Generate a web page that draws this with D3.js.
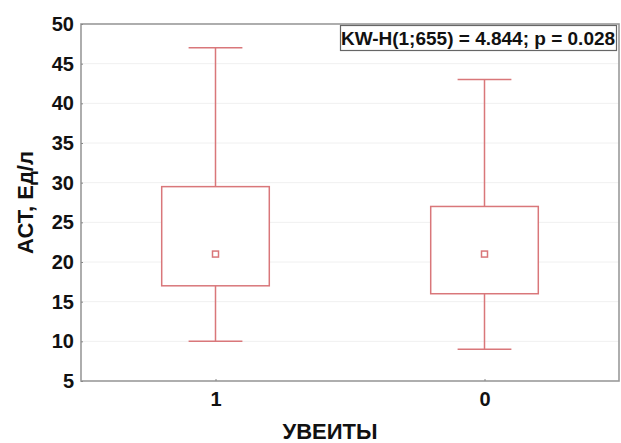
<!DOCTYPE html>
<html>
<head>
  <meta charset="utf-8">
  <title>Box plot</title>
  <style>
    body { margin: 0; background: #fff; font-family: 'Liberation Sans', Arial, sans-serif; }
  </style>
</head>
<body>
  <div id="chart"></div>
  <script src="https://d3js.org/d3.v7.min.js"></script>
  <script>
    // data
    var groups = ['1', '0'];
    var medians = [21, 21];
    var q1 = [17, 16];
    var q3 = [29.5, 27];
    var mins = [10, 9];
    var maxs = [47, 43];
    var yTicks = [5, 10, 15, 20, 25, 30, 35, 40, 45, 50];

    var width = 621, height = 443;
    var margin = { top: 24, right: 2, bottom: 62, left: 81 };
    var red = '#d9777a';

    var svg = d3.select('#chart').append('svg')
      .attr('width', width)
      .attr('height', height);

    var x = d3.scalePoint()
      .domain(groups)
      .range([margin.left, width - margin.right])
      .padding(0.5);

    var y = d3.scaleLinear()
      .domain([5, 50])
      .range([height - margin.bottom, margin.top]);

    var step = x.step();
    var boxW = step * 0.4, capW = step * 0.2;

    // grid lines
    svg.append('g').selectAll('line')
      .data(yTicks.slice(1, -1))
      .enter().append('line')
      .attr('x1', margin.left).attr('x2', width - margin.right)
      .attr('y1', function(d) { return y(d); })
      .attr('y2', function(d) { return y(d); })
      .attr('stroke', '#f0f0f0')
      .attr('stroke-width', 1);

    // frame
    svg.append('rect')
      .attr('x', margin.left).attr('y', margin.top)
      .attr('width', width - margin.left - margin.right)
      .attr('height', height - margin.top - margin.bottom)
      .attr('fill', 'none')
      .attr('stroke', '#9a9a9a')
      .attr('stroke-width', 1.6);

    // y axis
    var yAxis = svg.append('g')
      .attr('transform', 'translate(' + margin.left + ',0)')
      .call(d3.axisLeft(y).tickValues(yTicks).tickSize(-2).tickPadding(7));
    yAxis.select('.domain').remove();
    yAxis.selectAll('.tick line').attr('stroke', '#888');
    yAxis.selectAll('text')
      .attr('font-size', 20).attr('font-weight', 'bold')
      .attr('font-family', "'Liberation Sans', Arial, sans-serif")
      .attr('fill', '#111');

    // x axis
    var xAxis = svg.append('g')
      .attr('transform', 'translate(0,' + (height - margin.bottom) + ')')
      .call(d3.axisBottom(x).tickSize(-2).tickPadding(11));
    xAxis.select('.domain').remove();
    xAxis.selectAll('.tick line').attr('stroke', '#888');
    xAxis.selectAll('text')
      .attr('font-size', 20).attr('font-weight', 'bold')
      .attr('font-family', "'Liberation Sans', Arial, sans-serif")
      .attr('fill', '#111');

    // axis titles
    svg.append('text')
      .attr('transform', 'translate(33,' + y(27.5) + ') rotate(-90)')
      .attr('text-anchor', 'middle')
      .attr('font-size', 22).attr('font-weight', 'bold')
      .attr('fill', '#111')
      .text('АСТ, Ед/л');

    svg.append('text')
      .attr('x', 330).attr('y', 439)
      .attr('text-anchor', 'middle')
      .attr('font-size', 22).attr('font-weight', 'bold')
      .attr('fill', '#111')
      .text('УВЕИТЫ');

    // boxes
    var g = svg.append('g').selectAll('g')
      .data(groups)
      .enter().append('g');

    g.append('line')
      .attr('x1', function(d) { return x(d); })
      .attr('x2', function(d) { return x(d); })
      .attr('y1', function(d, i) { return y(maxs[i]); })
      .attr('y2', function(d, i) { return y(mins[i]); })
      .attr('stroke', red).attr('stroke-width', 1.5);

    g.append('line')
      .attr('x1', function(d) { return x(d) - capW / 2; })
      .attr('x2', function(d) { return x(d) + capW / 2; })
      .attr('y1', function(d, i) { return y(maxs[i]); })
      .attr('y2', function(d, i) { return y(maxs[i]); })
      .attr('stroke', red).attr('stroke-width', 1.5);

    g.append('line')
      .attr('x1', function(d) { return x(d) - capW / 2; })
      .attr('x2', function(d) { return x(d) + capW / 2; })
      .attr('y1', function(d, i) { return y(mins[i]); })
      .attr('y2', function(d, i) { return y(mins[i]); })
      .attr('stroke', red).attr('stroke-width', 1.5);

    g.append('rect')
      .attr('x', function(d) { return x(d) - boxW / 2; })
      .attr('y', function(d, i) { return y(q3[i]); })
      .attr('width', boxW)
      .attr('height', function(d, i) { return y(q1[i]) - y(q3[i]); })
      .attr('fill', '#fff')
      .attr('stroke', red).attr('stroke-width', 1.5);

    g.append('rect')
      .attr('x', function(d) { return x(d) - 3; })
      .attr('y', function(d, i) { return y(medians[i]) - 3; })
      .attr('width', 6).attr('height', 6)
      .attr('fill', '#fff')
      .attr('stroke', red).attr('stroke-width', 1.5);

    // test annotation
    var ann = svg.append('g');
    ann.append('rect')
      .attr('x', 340.5).attr('y', 25.5)
      .attr('width', 276).attr('height', 25)
      .attr('fill', '#fff')
      .attr('stroke', '#666').attr('stroke-width', 1.2);
    ann.append('text')
      .attr('x', 478).attr('y', 45)
      .attr('text-anchor', 'middle')
      .attr('font-size', 19).attr('font-weight', 'bold')
      .attr('fill', '#111')
      .text('KW-H(1;655) = 4.844; p = 0.028');
  </script>
</body>
</html>
